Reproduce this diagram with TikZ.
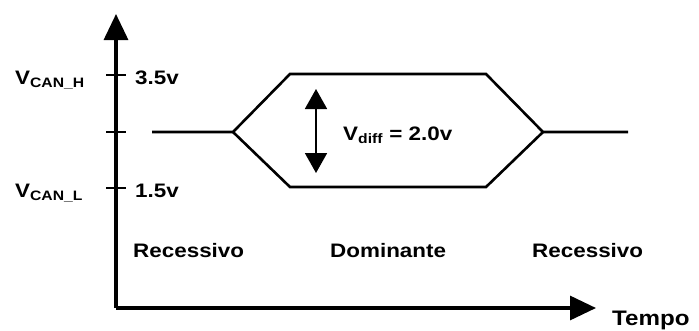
\documentclass[tikz,border=0pt]{standalone}
\usepackage{fontspec}
\setmainfont{Liberation Sans}[FakeStretch=1.15]
\usetikzlibrary{arrows.meta}
\begin{document}
\begin{tikzpicture}[x=1pt,y=-1pt,
  lbl/.style={anchor=base west,inner sep=0pt,font=\fontsize{19.5}{22}\selectfont\bfseries},
  axis/.style={line width=3.2pt},
  sig/.style={line width=2.6pt,line join=miter},
  tick/.style={line width=2.6pt}]
\useasboundingbox (0,0) rectangle (699,330);
\coordinate (O) at (116,308);
\coordinate (Ytip) at (116,14);
\coordinate (Xtip) at (596,308);
\draw[axis,-{Triangle[length=26pt,width=24pt]}] (O) -- (Ytip);
\draw[axis,-{Triangle[length=26pt,width=24pt]}] (O) -- (Xtip);
% ticks
\coordinate (t1a) at (106,75); \coordinate (t1b) at (126,75);
\coordinate (t2a) at (106,132); \coordinate (t2b) at (126,132);
\coordinate (t3a) at (106,188); \coordinate (t3b) at (126,188);
\draw[tick] (t1a) -- (t1b);
\draw[tick] (t2a) -- (t2b);
\draw[tick] (t3a) -- (t3b);
% signal
\coordinate (s0) at (152,132);
\coordinate (s1) at (233,132);
\coordinate (h1) at (290,74);
\coordinate (h2) at (486,74);
\coordinate (s2) at (543,132);
\coordinate (l2) at (486,187);
\coordinate (l1) at (290,187);
\coordinate (s3) at (628,132);
\draw[sig] (s0) -- (s1) -- (h1) -- (h2) -- (s2) -- (s3);
\draw[sig] (s1) -- (l1) -- (l2) -- (s2);
% double arrow
\coordinate (d1) at (316,89);
\coordinate (d2) at (316,173);
\draw[line width=1.8pt,{Triangle[length=20pt,width=22pt]}-{Triangle[length=20pt,width=22pt]}] (d1) -- (d2);
% labels
\node[lbl] (vh) at (15,84) {V\textsubscript{CAN\_H}};
\node[lbl] (v35) at (135,84) {3.5v};
\node[lbl] (vl) at (15,197) {V\textsubscript{CAN\_L}};
\node[lbl] (v15) at (135,197) {1.5v};
\node[lbl] (vd) at (343,140) {V\textsubscript{diff} = 2.0v};
\node[lbl] (r1) at (133,257) {Recessivo};
\node[lbl] (dm) at (330,257) {Dominante};
\node[lbl] (r2) at (532,257) {Recessivo};
\node[lbl,font=\fontsize{21}{24}\selectfont\bfseries] (tp) at (612,325) {Tempo};
\end{tikzpicture}
\end{document}
